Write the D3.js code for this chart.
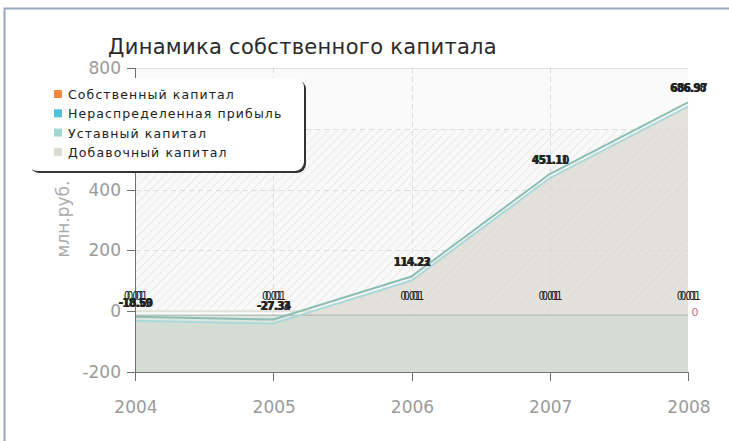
<!DOCTYPE html>
<html>
<head>
<meta charset="utf-8">
<script src="https://cdn.jsdelivr.net/npm/d3@7"></script>
<style>
  body { margin: 0; background: #fff; }
  svg { display: block; font-family: "DejaVu Sans", sans-serif; }
</style>
</head>
<body>
<div id="chart"></div>
<script>
// данные
let years = [2004, 2005, 2006, 2007, 2008];
let seriesNames = ["Собственный капитал", "Нераспределенная прибыль", "Уставный капитал", "Добавочный капитал"];
let seriesColors = ["#f0893a", "#4fc3d9", "#a3d6d2", "#dcdcd0"];
let equity = [-18.59, -27.33, 114.23, 451.11, 686.98];
let retained = [-18.60, -27.34, 114.22, 451.10, 686.97];
let charter = [0.01, 0.01, 0.01, 0.01, 0.01];
let additional = [0, 0, 0, 0, 0];
let yTicks = [-200, 0, 200, 400, 600, 800];

const W = 729, H = 441;
const svg = d3.select("#chart").append("svg").attr("width", W).attr("height", H);

let x = d3.scaleLinear().domain([2004, 2008]).range([135, 688]);
let y = d3.scaleLinear().domain([-200, 800]).range([372, 68]);

/* ------------------ defs ------------------ */
const defs = svg.append("defs");
const hatch = defs.append("pattern")
  .attr("id", "hatch").attr("patternUnits", "userSpaceOnUse")
  .attr("width", 6).attr("height", 6)
  .attr("patternTransform", "rotate(45)");
hatch.append("rect").attr("width", 6).attr("height", 6).attr("fill", "#f9f9f9");
hatch.append("line").attr("x1", 0).attr("y1", 0).attr("x2", 0).attr("y2", 6)
  .attr("stroke", "#e6e6e6").attr("stroke-width", 1.5);

// рамка
svg.append("path")
  .attr("d", `M4.5,${H} L4.5,8.5 L${W},8.5`)
  .attr("fill", "none").attr("stroke", "#97a7bd").attr("stroke-width", 2);

/* ------------------ фон графика ------------------ */
svg.append("rect")
  .attr("x", x(2004)).attr("y", y(800))
  .attr("width", x(2008) - x(2004)).attr("height", y(-200) - y(800))
  .attr("fill", "#fafafa");
svg.append("rect")
  .attr("x", x(2004)).attr("y", y(600))
  .attr("width", x(2008) - x(2004)).attr("height", y(0) - y(600))
  .attr("fill", "url(#hatch)");
svg.append("line")
  .attr("x1", x(2004)).attr("x2", x(2008)).attr("y1", y(800) + 0.5).attr("y2", y(800) + 0.5)
  .attr("stroke", "#e2e2e2");

// сетка
const grid = svg.append("g").attr("stroke", "#dcdcdc").attr("stroke-dasharray", "5,4");
grid.selectAll("line.h").data(yTicks.filter(d => d > 0 && d < 800)).enter().append("line")
  .attr("x1", x(2004)).attr("x2", x(2008))
  .attr("y1", d => Math.round(y(d)) + 0.5).attr("y2", d => Math.round(y(d)) + 0.5);
grid.selectAll("line.v").data(years.slice(1, 4)).enter().append("line")
  .attr("y1", y(800)).attr("y2", y(-200))
  .attr("x1", d => Math.round(x(d)) + 0.5).attr("x2", d => Math.round(x(d)) + 0.5);

/* ------------------ области и линии ------------------ */
const off = 4;
let areaGen = vals => d3.area()
  .x((d, i) => x(years[i]))
  .y0(y(-200))
  .y1(d => y(d) + off)(vals);
let lineGen = (vals, dy) => d3.line()
  .x((d, i) => x(years[i]))
  .y(d => y(d) + dy)(vals);

svg.append("path").attr("d", areaGen(equity)).attr("fill", "#d9d8d0").attr("opacity", 0.75);
svg.append("path").attr("d", areaGen(charter)).attr("fill", "#cdd8cf").attr("opacity", 0.6);

svg.append("path").attr("d", lineGen(additional, 0)).attr("fill", "none")
  .attr("stroke", "#e2e2d8").attr("stroke-width", 2);
svg.append("path").attr("d", lineGen(charter, off)).attr("fill", "none")
  .attr("stroke", "#b8c4ba").attr("stroke-width", 1.5);

svg.append("path").attr("d", lineGen(retained, off)).attr("fill", "none")
  .attr("stroke", "#acd8d9").attr("stroke-width", 2);
svg.append("path").attr("d", lineGen(equity, 0)).attr("fill", "none")
  .attr("stroke", "#8dbdb3").attr("stroke-width", 2);

/* ------------------ оси ------------------ */
const axisColor = "#707070";
svg.append("line").attr("x1", 135.5).attr("x2", 135.5).attr("y1", y(800)).attr("y2", y(-200))
  .attr("stroke", axisColor);
svg.append("line").attr("x1", x(2004)).attr("x2", x(2008)).attr("y1", 372.5).attr("y2", 372.5)
  .attr("stroke", axisColor);

svg.selectAll("line.yt").data(yTicks).enter().append("line")
  .attr("x1", 127).attr("x2", 135)
  .attr("y1", d => Math.round(y(d)) + 0.5).attr("y2", d => Math.round(y(d)) + 0.5)
  .attr("stroke", axisColor);
svg.selectAll("text.yt").data(yTicks).enter().append("text")
  .attr("x", 121).attr("y", d => y(d) + 6)
  .attr("text-anchor", "end").attr("font-size", 17).attr("fill", "#9a9a9a")
  .text(d => d);

svg.selectAll("line.xt").data(years).enter().append("line")
  .attr("x1", d => Math.round(x(d)) + 0.5).attr("x2", d => Math.round(x(d)) + 0.5)
  .attr("y1", 372).attr("y2", 381)
  .attr("stroke", axisColor);
svg.selectAll("text.xt").data(years).enter().append("text")
  .attr("x", d => x(d) + 1).attr("y", 413)
  .attr("text-anchor", "middle").attr("font-size", 17).attr("fill", "#9a9a9a")
  .text(d => d);

svg.append("text")
  .attr("transform", "translate(69,219) rotate(-90)")
  .attr("text-anchor", "middle").attr("font-size", 17).attr("fill", "#ababab")
  .text("млн.руб.");

/* ------------------ подписи значений ------------------ */
const lbl = svg.append("g").attr("font-family", "DejaVu Sans Condensed, sans-serif")
  .attr("font-size", 11.5).attr("font-weight", "bold").attr("fill", "#222")
  .attr("text-anchor", "middle").attr("letter-spacing", -0.6);

lbl.selectAll("text.c").data(charter).enter().append("text")
  .attr("x", (d, i) => x(years[i]) - 1).attr("y", d => y(d) - 11)
  .style("text-shadow", "3px 0 0 #222")
  .attr("font-weight", "normal")
  .text(d => d.toFixed(2));
lbl.selectAll("text.r").data(retained).enter().append("text")
  .attr("x", (d, i) => x(years[i]) + 1).attr("y", d => y(d) - 10)
  .text(d => d.toFixed(2));
lbl.selectAll("text.e").data(equity).enter().append("text")
  .attr("x", (d, i) => x(years[i])).attr("y", d => y(d) - 10)
  .text(d => d.toFixed(2));

svg.append("text")
  .attr("x", x(2008) + 7).attr("y", y(additional[4]) + 5)
  .attr("text-anchor", "middle").attr("font-size", 11).attr("fill", "#c4707e")
  .text(additional[4]);

/* ------------------ заголовок ------------------ */
svg.append("text")
  .attr("x", 108).attr("y", 54)
  .attr("font-size", 21).attr("fill", "#2a2a2a").attr("letter-spacing", 0.3)
  .text("Динамика собственного капитала");

/* ------------------ легенда ------------------ */
const leg = svg.append("g");
leg.append("rect").attr("x", 30).attr("y", 80).attr("width", 276).attr("height", 93)
  .attr("rx", 9).attr("fill", "#333");
leg.append("rect").attr("x", 28).attr("y", 78).attr("width", 276).attr("height", 93)
  .attr("rx", 9).attr("fill", "#fff");

const items = leg.selectAll("g.item").data(seriesNames).enter().append("g")
  .attr("transform", (d, i) => `translate(54,${96 + i * 19.3})`);
items.append("rect").attr("x", 0).attr("y", -6).attr("width", 8).attr("height", 8)
  .attr("fill", (d, i) => seriesColors[i]);
items.append("text").attr("x", 14).attr("y", 3)
  .attr("font-size", 12.5).attr("fill", "#222").attr("letter-spacing", 1.1)
  .text(d => d);
</script>
</body>
</html>
